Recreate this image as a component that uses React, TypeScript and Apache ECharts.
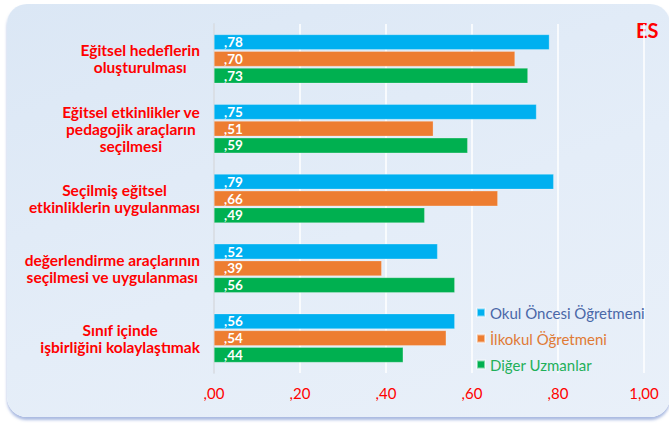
import React, { useEffect, useRef } from "react";
import * as echarts from "echarts";

const categories = [
  "Eğitsel hedeflerin\noluşturulması",
  "Eğitsel etkinlikler ve\npedagojik araçların\nseçilmesi",
  "Seçilmiş eğitsel\netkinliklerin uygulanması",
  "değerlendirme araçlarının\nseçilmesi ve uygulanması",
  "Sınıf içinde\nişbirliğini kolaylaştımak",
];
const seriesNames = ["Okul Öncesi Öğretmeni", "İlkokul Öğretmeni", "Diğer Uzmanlar"];
const okulOncesi = [0.78, 0.75, 0.79, 0.52, 0.56];
const ilkokul = [0.7, 0.51, 0.66, 0.39, 0.54];
const diger = [0.73, 0.59, 0.49, 0.56, 0.44];
const xTicks = [0, 0.2, 0.4, 0.6, 0.8, 1.0];
const colors = ["#00b0f0", "#ed7d31", "#00b050"];
const legendColors = ["#4a68a8", "#e07a35", "#1fb05a"];

const fmt = (v: number) => v.toFixed(2).replace(".", ",").replace(/^0/, "");

export default function App() {
  const ref = useRef<HTMLDivElement>(null);
  useEffect(() => {
    if (!ref.current) return;
    const chart = echarts.init(ref.current, null, { renderer: "svg" });
    const font = "Lato, 'Open Sans', sans-serif";
    const values = [okulOncesi, ilkokul, diger];
    chart.setOption({
      animation: false,
      backgroundColor: "transparent",
      textStyle: { fontFamily: font },
      grid: { left: 214, right: 25, top: 24, bottom: 50, containLabel: false, outerBoundsMode: "none" },
      graphic: [
        {
          type: "text",
          left: 636,
          top: 20,
          style: { text: "ES", fill: "#ff0000", font: `bold 20px ${font}` },
        },
      ],
      legend: {
        orient: "vertical",
        left: 471,
        top: 300,
        itemWidth: 8,
        itemHeight: 8,
        itemGap: 11,
        icon: "rect",
        textStyle: { fontSize: 15, fontFamily: font },
        data: seriesNames.map((n, i) => ({ name: n, textStyle: { color: legendColors[i] } })),
      },
      xAxis: {
        type: "value",
        min: xTicks[0],
        max: xTicks[xTicks.length - 1],
        interval: 0.2,
        axisLine: { show: false },
        axisTick: { show: false },
        splitLine: { show: true, lineStyle: { color: "#ffffff", width: 1.5 } },
        axisLabel: {
          color: "#ff0000",
          fontSize: 15,
          margin: 12,
          formatter: (v: number) => fmt(v),
        },
      },
      yAxis: {
        type: "category",
        data: categories,
        inverse: true,
        axisLine: { show: true, lineStyle: { color: "#d0d6de", width: 1.5 } },
        axisTick: { show: false },
        axisLabel: {
          color: "#ff0000",
          fontWeight: "bold",
          fontSize: 15.5,
          lineHeight: 17,
          align: "right",
          margin: 14,
          formatter: (v: string) =>
            v
              .split("\n")
              .map((l) => `{c|${l}}`)
              .join("\n"),
          rich: {
            c: {
              align: "center",
              color: "#ff0000",
              fontWeight: "bold",
              fontSize: 15.5,
              lineHeight: 17,
              fontFamily: font,
            },
          },
        },
      },
      series: seriesNames.map((name, i) => ({
        name,
        type: "bar",
        data: values[i],
        barCategoryGap: "30%",
        barGap: "10%",
        itemStyle: { color: colors[i], borderColor: "rgba(255,255,255,0.5)", borderWidth: 0.5 },
        label: {
          show: true,
          position: "insideLeft",
          distance: 10,
          color: "#ffffff",
          fontWeight: "bold",
          fontSize: 13.5,
          formatter: (p: any) => fmt(p.value),
        },
      })),
    });
    return () => chart.dispose();
  }, []);
  return (
    <div style={{ position: "fixed", left: 0, top: 0, width: 669, height: 423, background: "#ffffff", overflow: "hidden" }}>
      <div
        style={{
          position: "absolute",
          left: 7,
          top: 4,
          width: 663,
          height: 413,
          borderRadius: 20,
          background: "linear-gradient(160deg, #dbe7f5 0%, #e4edf8 55%, #e9f0f9 100%)",
          boxShadow: "0 3px 3px rgba(100,130,200,0.55)",
        }}
      />
      <div ref={ref} style={{ position: "absolute", left: 0, top: 0, width: 669, height: 423 }} />
    </div>
  );
}
